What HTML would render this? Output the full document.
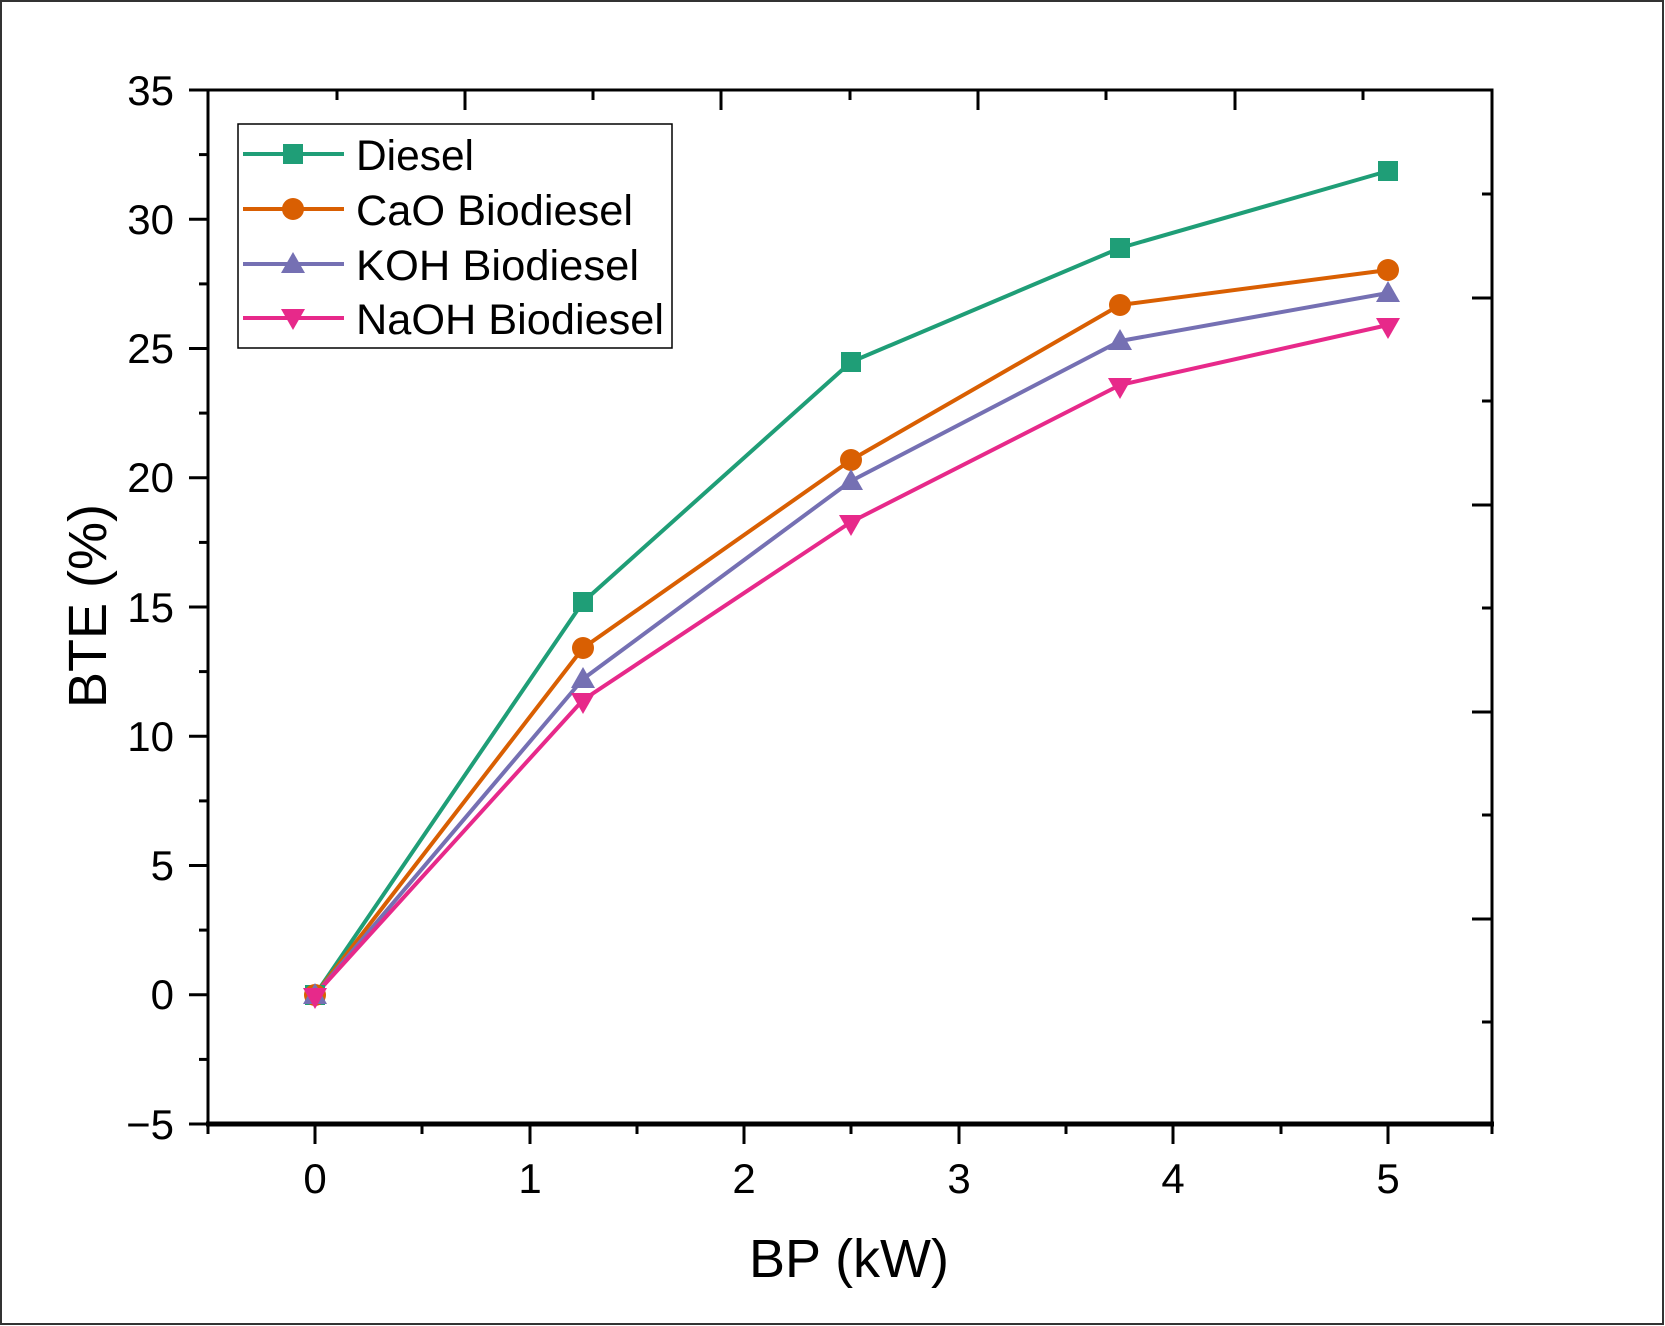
<!DOCTYPE html>
<html><head><meta charset="utf-8"><style>html,body{margin:0;padding:0;background:#fff}svg{display:block}</style></head>
<body>
<svg width="1665" height="1326" viewBox="0 0 1665 1326" xmlns="http://www.w3.org/2000/svg" font-family="Liberation Sans, Arial, sans-serif">
<rect x="1" y="1" width="1662" height="1323" fill="#fff" stroke="#333" stroke-width="2"/>
<g stroke="#000" stroke-width="3" fill="none">
<rect x="208" y="90" width="1284" height="1034"/>
</g>
<line x1="206" y1="1124" x2="1494" y2="1124" stroke="#000" stroke-width="5"/>
<g stroke="#000" stroke-width="3">
<line x1="189" y1="90" x2="208" y2="90"/><line x1="199" y1="154.6" x2="208" y2="154.6"/>
<line x1="189" y1="219.3" x2="208" y2="219.3"/><line x1="199" y1="283.9" x2="208" y2="283.9"/>
<line x1="189" y1="348.5" x2="208" y2="348.5"/><line x1="199" y1="413.1" x2="208" y2="413.1"/>
<line x1="189" y1="477.8" x2="208" y2="477.8"/><line x1="199" y1="542.4" x2="208" y2="542.4"/>
<line x1="189" y1="607" x2="208" y2="607"/><line x1="199" y1="671.6" x2="208" y2="671.6"/>
<line x1="189" y1="736.3" x2="208" y2="736.3"/><line x1="199" y1="800.9" x2="208" y2="800.9"/>
<line x1="189" y1="865.5" x2="208" y2="865.5"/><line x1="199" y1="930.1" x2="208" y2="930.1"/>
<line x1="189" y1="994.8" x2="208" y2="994.8"/><line x1="199" y1="1059.4" x2="208" y2="1059.4"/>
<line x1="189" y1="1124" x2="208" y2="1124"/>
<line x1="208" y1="1124" x2="208" y2="1134"/><line x1="315" y1="1124" x2="315" y2="1144"/>
<line x1="422" y1="1124" x2="422" y2="1134"/><line x1="530" y1="1124" x2="530" y2="1144"/>
<line x1="637" y1="1124" x2="637" y2="1134"/><line x1="744" y1="1124" x2="744" y2="1144"/>
<line x1="851" y1="1124" x2="851" y2="1134"/><line x1="959" y1="1124" x2="959" y2="1144"/>
<line x1="1066" y1="1124" x2="1066" y2="1134"/><line x1="1173" y1="1124" x2="1173" y2="1144"/>
<line x1="1281" y1="1124" x2="1281" y2="1134"/><line x1="1388" y1="1124" x2="1388" y2="1144"/>
<line x1="1492" y1="1124" x2="1492" y2="1134"/>
<line x1="337" y1="90" x2="337" y2="100"/><line x1="465" y1="90" x2="465" y2="110"/>
<line x1="593" y1="90" x2="593" y2="100"/><line x1="721" y1="90" x2="721" y2="110"/>
<line x1="850" y1="90" x2="850" y2="100"/><line x1="978" y1="90" x2="978" y2="110"/>
<line x1="1106" y1="90" x2="1106" y2="100"/><line x1="1235" y1="90" x2="1235" y2="110"/>
<line x1="1363" y1="90" x2="1363" y2="100"/>
<line x1="1482" y1="194" x2="1492" y2="194"/><line x1="1472" y1="298" x2="1492" y2="298"/>
<line x1="1482" y1="401" x2="1492" y2="401"/><line x1="1472" y1="505" x2="1492" y2="505"/>
<line x1="1482" y1="608" x2="1492" y2="608"/><line x1="1472" y1="712" x2="1492" y2="712"/>
<line x1="1482" y1="815" x2="1492" y2="815"/><line x1="1472" y1="919" x2="1492" y2="919"/>
<line x1="1482" y1="1022" x2="1492" y2="1022"/>
</g>
<g font-size="42" text-anchor="end" fill="#000">
<text x="174" y="105">35</text><text x="174" y="234">30</text><text x="174" y="363">25</text>
<text x="174" y="492">20</text><text x="174" y="622">15</text><text x="174" y="751">10</text>
<text x="174" y="880">5</text><text x="174" y="1009">0</text><text x="174" y="1139">−5</text>
</g>
<g font-size="42" text-anchor="middle" fill="#000">
<text x="315" y="1193">0</text><text x="530" y="1193">1</text><text x="744" y="1193">2</text>
<text x="959" y="1193">3</text><text x="1173" y="1193">4</text><text x="1388" y="1193">5</text>
</g>
<text x="849" y="1277" font-size="54" text-anchor="middle">BP (kW)</text>
<text transform="translate(106,606) rotate(-90)" font-size="54" text-anchor="middle">BTE (%)</text>
<g fill="none" stroke-width="4" stroke-linejoin="round">
<polyline stroke="#1f9e77" points="315,995 583,602 851,362 1120,248 1388,171"/>
<polyline stroke="#d95f02" points="315,995 583,648 851,460 1120,305 1388,270"/>
<polyline stroke="#7570b3" points="315,995 583,679 851,481 1120,341 1388,293"/>
<polyline stroke="#e7298a" points="315,995 583,700 851,522 1120,385 1388,325"/>
</g>
<g fill="#1f9e77"><rect x="305" y="985" width="20" height="20"/><rect x="573" y="592" width="20" height="20"/><rect x="841" y="352" width="20" height="20"/><rect x="1110" y="238" width="20" height="20"/><rect x="1378" y="161" width="20" height="20"/></g>
<g fill="#d95f02"><circle cx="315" cy="995" r="11"/><circle cx="583" cy="648" r="11"/><circle cx="851" cy="460" r="11"/><circle cx="1120" cy="305" r="11"/><circle cx="1388" cy="270" r="11"/></g>
<g fill="#7570b3"><path d="M315,983 l12,21 h-24z"/><path d="M583,667 l12,21 h-24z"/><path d="M851,469 l12,21 h-24z"/><path d="M1120,329 l12,21 h-24z"/><path d="M1388,281 l12,21 h-24z"/></g>
<g fill="#e7298a"><path d="M303,988 h24 l-12,21z"/><path d="M571,693 h24 l-12,21z"/><path d="M839,515 h24 l-12,21z"/><path d="M1108,378 h24 l-12,21z"/><path d="M1376,318 h24 l-12,21z"/></g>
<rect x="238" y="124" width="434" height="224" fill="#fff" stroke="#000" stroke-width="1.5"/>
<g stroke-width="4">
<line x1="243" y1="154" x2="344" y2="154" stroke="#1f9e77"/>
<line x1="243" y1="209" x2="344" y2="209" stroke="#d95f02"/>
<line x1="243" y1="264" x2="344" y2="264" stroke="#7570b3"/>
<line x1="243" y1="318" x2="344" y2="318" stroke="#e7298a"/>
</g>
<rect x="283" y="144" width="20" height="20" fill="#1f9e77"/>
<circle cx="293" cy="209" r="11" fill="#d95f02"/>
<path d="M293,252 l12,21 h-24z" fill="#7570b3"/>
<path d="M281,309 h24 l-12,21z" fill="#e7298a"/>
<g font-size="43" fill="#000">
<text x="356" y="170" textLength="118" lengthAdjust="spacingAndGlyphs">Diesel</text>
<text x="356" y="225" textLength="277" lengthAdjust="spacingAndGlyphs">CaO Biodiesel</text>
<text x="356" y="280" textLength="283" lengthAdjust="spacingAndGlyphs">KOH Biodiesel</text>
<text x="356" y="334" textLength="308" lengthAdjust="spacingAndGlyphs">NaOH Biodiesel</text>
</g>
</svg>
</body></html>
